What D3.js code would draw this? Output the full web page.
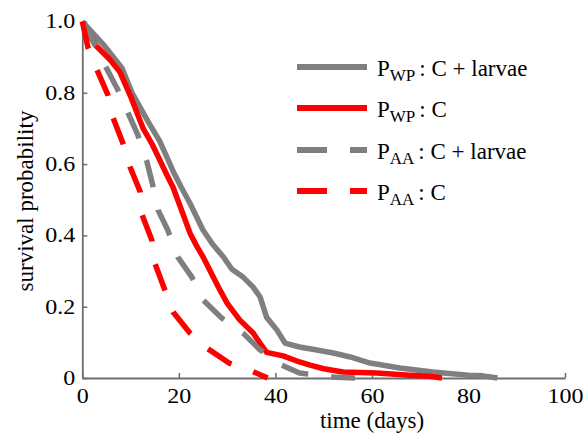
<!DOCTYPE html>
<html>
<head>
<meta charset="utf-8">
<script src="https://cdn.jsdelivr.net/npm/d3@7"></script>
<style>
html,body{margin:0;padding:0;background:#fff;}
svg text{font-family:"Liberation Serif","Times New Roman",serif !important;fill:#000;}
</style>
</head>
<body>
<svg id="chart" width="585" height="434"></svg>
<script>
// ---- data ----
const xTicks = [0, 20, 40, 60, 80, 100];
const yTicks = [0, 0.2, 0.4, 0.6, 0.8, 1.0];
const yTickLabels = ["0", "0.2", "0.4", "0.6", "0.8", "1.0"];

// P_WP : C + larvae (grey solid)
const wpLarvaeT = [0, 2, 4.7, 8.2, 10.3, 13.6, 16, 17.5, 18.8, 20.5, 22.3, 25, 27, 29.2, 31, 33.3, 35.4, 36.8, 38.2, 40.3, 42, 45, 48, 52, 55.5, 59.6, 65.8, 72.6, 80, 83, 86];
const wpLarvaeS = [1, 0.97, 0.93, 0.87, 0.80, 0.72, 0.665, 0.62, 0.58, 0.535, 0.49, 0.415, 0.375, 0.34, 0.305, 0.283, 0.255, 0.228, 0.17, 0.135, 0.098, 0.087, 0.08, 0.07, 0.059, 0.042, 0.028, 0.017, 0.008, 0.006, 0];

// P_WP : C (red solid)
const wpT = [0, 1.5, 3, 5.8, 7.8, 10, 12.6, 14.5, 16.1, 17.5, 18.8, 20.8, 22.3, 23.5, 25, 26.5, 28.5, 30, 32.6, 35.4, 36.8, 38.2, 41.6, 45, 47.2, 50, 54, 61, 67.8, 72, 74.5];
const wpS = [1, 0.96, 0.93, 0.892, 0.858, 0.79, 0.70, 0.655, 0.61, 0.57, 0.535, 0.462, 0.407, 0.375, 0.34, 0.30, 0.247, 0.21, 0.163, 0.126, 0.098, 0.072, 0.062, 0.045, 0.036, 0.026, 0.017, 0.014, 0.008, 0.005, 0];

// P_AA : C + larvae (grey dashed)
const aaLarvaeT = [0, 2.8, 4.9, 7.2, 9.5, 11.5, 13.4, 14.6, 15.7, 17.7, 19.8, 22.7, 25, 28.9, 33.3, 36.8, 41.3, 45, 51.3, 56.5];
const aaLarvaeS = [1, 0.93, 0.872, 0.813, 0.743, 0.682, 0.606, 0.541, 0.471, 0.415, 0.339, 0.283, 0.219, 0.168, 0.126, 0.079, 0.036, 0.014, 0.003, 0];

// P_AA : C (red dashed)
const aaT = [0, 1.2, 3.06, 5.3, 6.4, 8.4, 9.9, 12, 12.4, 14.4, 15, 17.1, 18.8, 22.3, 25.8, 30.4, 34.7, 38.4];
const aaS = [1, 0.926, 0.864, 0.794, 0.729, 0.659, 0.592, 0.522, 0.457, 0.387, 0.323, 0.247, 0.185, 0.126, 0.084, 0.042, 0.022, 0];

const seriesNames = ["P_WP : C + larvae", "P_WP : C", "P_AA : C + larvae", "P_AA : C"];

// ---- build ----
const GREY = "#7f7f7f", RED = "#ff0000";
const series = [
  {main: "P", sub: "WP", rest: "C + larvae", t: wpLarvaeT, s: wpLarvaeS, color: GREY, dash: null},
  {main: "P", sub: "WP", rest: "C", t: wpT, s: wpS, color: RED, dash: null},
  {main: "P", sub: "AA", rest: "C + larvae", t: aaLarvaeT, s: aaLarvaeS, color: GREY, dash: "28,23"},
  {main: "P", sub: "AA", rest: "C", t: aaT, s: aaS, color: RED, dash: "28,23"}
];

const svg = d3.select("#chart");
const x = d3.scaleLinear().domain([0, 100]).range([82.3, 565]);
const y = d3.scaleLinear().domain([0, 1]).range([378, 21.5]);
const AX = "#6e6e6e";
const SERIF = "'Liberation Serif','Times New Roman',serif";

// x axis
const gx = svg.append("g").attr("transform", `translate(0,${y(0)})`)
  .call(d3.axisBottom(x).tickValues(xTicks).tickFormat(d3.format("d")).tickSizeInner(-5).tickSizeOuter(0).tickPadding(11));
// y axis
const gy = svg.append("g").attr("transform", `translate(${x(0)},0)`)
  .call(d3.axisLeft(y).tickValues(yTicks).tickFormat((d, i) => yTickLabels[i]).tickSizeInner(-5).tickSizeOuter(0).tickPadding(7));

[gx, gy].forEach(g => {
  g.attr("font-family", null);
  g.select(".domain").attr("stroke", AX).attr("stroke-width", 1.8);
  g.selectAll(".tick line").attr("stroke", AX).attr("stroke-width", 1.5);
  g.selectAll(".tick text").attr("font-size", 20).style("font-family", SERIF).attr("fill", "#000");
});
gx.selectAll(".tick text").attr("transform", "scale(1.2,1)");
gy.selectAll(".tick text").attr("x", -7 / 1.2).attr("transform", "scale(1.2,1)");

// lines
const line = d3.line().x(d => x(d[0])).y(d => y(d[1]));
series.forEach(sr => {
  const pts = sr.t.map((t, i) => [t, sr.s[i]]);
  svg.append("path").datum(pts)
    .attr("d", line)
    .attr("fill", "none")
    .attr("stroke", sr.color)
    .attr("stroke-width", 5.5)
    .attr("stroke-linejoin", "round")
    .attr("stroke-dasharray", sr.dash);
});

// legend
const legY = [67, 108, 150, 191];
series.forEach((sr, i) => {
  svg.append("line")
    .attr("x1", 297).attr("x2", 367).attr("y1", legY[i]).attr("y2", legY[i])
    .attr("stroke", sr.color).attr("stroke-width", 6)
    .attr("stroke-dasharray", sr.dash ? "30,23" : null);
  const t = svg.append("text").attr("x", 377).attr("y", legY[i] + 9).attr("font-size", 23).style("font-family", SERIF);
  t.append("tspan").text(sr.main);
  t.append("tspan").attr("font-size", 17).attr("dy", 5).text(sr.sub);
  t.append("tspan").attr("dy", -5).attr("dx", 4).text(":");
  t.append("tspan").text(" " + sr.rest);
});

// axis titles
svg.append("text").attr("x", 372).attr("y", 428).attr("text-anchor", "middle").attr("font-size", 23).style("font-family", SERIF).text("time (days)");
svg.append("text").attr("transform", "translate(33,201) rotate(-90)").attr("text-anchor", "middle").attr("font-size", 23).style("font-family", SERIF).text("survival probability");
</script>
</body>
</html>
